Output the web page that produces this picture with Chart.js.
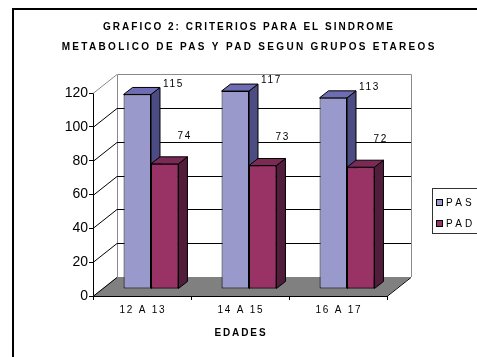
<!DOCTYPE html>
<html>
<head>
<meta charset="utf-8">
<script src="https://cdn.jsdelivr.net/npm/chart.js@4"></script>
<style>
html,body{margin:0;padding:0;background:#fff;}
canvas{display:block;}
</style>
</head>
<body>
<canvas id="c" width="477" height="357"></canvas>
<script>
const categories = ['12 A 13', '14 A 15', '16 A 17'];
const seriesNames = ['PAS', 'PAD'];
const pasValues = [115, 117, 113];
const padValues = [74, 73, 72];
const titleLines = ['GRAFICO 2: CRITERIOS PARA EL SINDROME', 'METABOLICO DE PAS Y PAD SEGUN GRUPOS ETAREOS'];
const xAxisTitle = 'EDADES';
const yMin = 0, yMax = 120, yStep = 20;

const FONT = "'Liberation Sans', Arial, sans-serif";
const COLORS = {
  PAS: {front: '#9999cc', top: '#6e6db3', side: '#4c4b82'},
  PAD: {front: '#993366', top: '#7a2a55', side: '#521d3b'}
};
const WALL = {x: 24, y: -19};
const BAR_OFF = {x: 9, y: -7};
const BAR_D = {x: 9, y: -7};

const mctx = document.createElement('canvas').getContext('2d');
function fitSpacing(text, font, width) {
  mctx.font = font;
  mctx.letterSpacing = '0px';
  const w = mctx.measureText(text).width;
  return Math.max(0, (width - w) / text.length);
}

const TITLE_FONT = 'bold 10px ' + FONT;
const LABEL_FONT = '10px ' + FONT;
const titleSp = [fitSpacing(titleLines[0], TITLE_FONT, 292), fitSpacing(titleLines[1], TITLE_FONT, 375)];
const tickSp = fitSpacing(categories[0], LABEL_FONT, 47);
const axisSp = fitSpacing(xAxisTitle, TITLE_FONT, 53);
const dataSp = fitSpacing('115', LABEL_FONT, 21);
const legSp = fitSpacing('PAS', LABEL_FONT, 29);

function poly(ctx, pts, fill, stroke, lw) {
  ctx.beginPath();
  ctx.moveTo(pts[0][0], pts[0][1]);
  for (let i = 1; i < pts.length; i++) ctx.lineTo(pts[i][0], pts[i][1]);
  ctx.closePath();
  if (fill) { ctx.fillStyle = fill; ctx.fill(); }
  if (stroke) { ctx.strokeStyle = stroke; ctx.lineWidth = lw || 1; ctx.stroke(); }
}

function barFaces(ctx, el, c) {
  const p = el.getProps(['x', 'y', 'base', 'width'], true);
  const l = p.x - p.width / 2, r = p.x + p.width / 2, t = p.y, b = p.base;
  const dx = BAR_D.x, dy = BAR_D.y;
  poly(ctx, [[r, t], [r + dx, t + dy], [r + dx, b + dy], [r, b]], c.side, '#000', 1);
  poly(ctx, [[l, t], [r, t], [r + dx, t + dy], [l + dx, t + dy]], c.top, '#000', 1);
}

const frame3d = {
  id: 'frame3d',
  beforeDraw(chart) {
    const ctx = chart.ctx;
    ctx.save();
    ctx.fillStyle = '#fff';
    ctx.fillRect(0, 0, chart.width, chart.height);
    ctx.fillStyle = '#000';
    ctx.fillRect(12, 8, 2, chart.height - 8);
    ctx.fillRect(12, 8, chart.width - 12, 2);
    // title
    ctx.fillStyle = '#000';
    ctx.font = TITLE_FONT;
    ctx.textAlign = 'left';
    ctx.textBaseline = 'middle';
    const tc = 248, ty = [27, 47];
    titleLines.forEach((t, i) => {
      ctx.letterSpacing = titleSp[i] + 'px';
      const w = ctx.measureText(t).width - titleSp[i];
      ctx.fillText(t, tc - w / 2, ty[i]);
    });
    // legend
    ctx.letterSpacing = legSp + 'px';
    ctx.font = LABEL_FONT;
    ctx.strokeStyle = '#333';
    ctx.lineWidth = 1;
    ctx.strokeRect(432.5, 188.5, 60, 45);
    const ly = [203, 224];
    seriesNames.forEach((n, i) => {
      ctx.fillStyle = COLORS[n].front;
      ctx.fillRect(436, ly[i] - 4, 7, 7);
      ctx.strokeStyle = '#000';
      ctx.strokeRect(436.5, ly[i] - 3.5, 6, 6);
      ctx.fillStyle = '#000';
      ctx.fillText(n, 446, ly[i] + 0.5);
    });
    ctx.restore();
  },
  beforeDatasetsDraw(chart) {
    const ctx = chart.ctx, ys = chart.scales.y, a = chart.chartArea;
    const L = a.left, R = a.right, B = a.bottom;
    const wx = WALL.x, wy = WALL.y;
    ctx.save();
    poly(ctx, [[L, B], [R, B], [R + wx, B + wy], [L + wx, B + wy]], '#808080', null);
    ctx.lineWidth = 1;
    const yTop = ys.getPixelForValue(yMax);
    ctx.strokeStyle = '#8a8a8a';
    ctx.beginPath();
    ctx.moveTo(L + wx + 0.5, B + wy);
    ctx.lineTo(L + wx + 0.5, yTop + wy + 0.5);
    ctx.lineTo(R + wx + 0.5, yTop + wy + 0.5);
    ctx.lineTo(R + wx + 0.5, B + wy);
    ctx.stroke();
    ctx.beginPath();
    ctx.moveTo(L, yTop + 0.5);
    ctx.lineTo(L + wx, yTop + wy + 0.5);
    ctx.stroke();
    ctx.strokeStyle = '#000';
    for (let v = yMin; v < yMax; v += yStep) {
      const y = Math.round(ys.getPixelForValue(v)) + 0.5;
      ctx.beginPath();
      ctx.moveTo(L, y);
      ctx.lineTo(L + wx, y + wy);
      if (v > yMin) ctx.lineTo(R + wx, y + wy);
      ctx.stroke();
    }
    ctx.beginPath();
    ctx.moveTo(R, B + 0.5);
    ctx.lineTo(R + wx, B + wy + 0.5);
    ctx.stroke();
    ctx.restore();
    ctx.save();
    ctx.translate(BAR_OFF.x, BAR_OFF.y);
  },
  afterDatasetsDraw(chart) {
    const ctx = chart.ctx;
    const m0 = chart.getDatasetMeta(0), m1 = chart.getDatasetMeta(1);
    for (let i = 0; i < categories.length; i++) {
      barFaces(ctx, m0.data[i], COLORS.PAS);
      m1.data[i].draw(ctx);
      barFaces(ctx, m1.data[i], COLORS.PAD);
    }
    ctx.restore();
    ctx.save();
    ctx.fillStyle = '#000';
    ctx.font = LABEL_FONT;
    ctx.letterSpacing = dataSp + 'px';
    ctx.textAlign = 'left';
    ctx.textBaseline = 'middle';
    for (let i = 0; i < categories.length; i++) {
      const p0 = m0.data[i].getProps(['x', 'y', 'width'], true);
      ctx.fillText(String(pasValues[i]), p0.x + p0.width / 2 + BAR_OFF.x + BAR_D.x + 3, p0.y + BAR_OFF.y - 10.5);
      const p1 = m1.data[i].getProps(['x', 'y', 'width'], true);
      ctx.fillText(String(padValues[i]), p1.x + p1.width / 2 + BAR_OFF.x - 1, p1.y + BAR_OFF.y - 28);
    }
    ctx.restore();
  }
};

function spaced(scale, lpx, tpx) {
  if (scale._spacedWrapped) return;
  scale._spacedWrapped = true;
  const dl = scale.drawLabels, dt = scale.drawTitle;
  scale.drawLabels = function (a) { const c = this.ctx; c.save(); c.letterSpacing = lpx + 'px'; c.translate(lpx / 2, 0); dl.call(this, a); c.restore(); };
  scale.drawTitle = function (a) { const c = this.ctx; c.save(); c.letterSpacing = tpx + 'px'; c.translate(tpx / 2, 0); dt.call(this, a); c.restore(); };
}

new Chart(document.getElementById('c'), {
  type: 'bar',
  data: {
    labels: categories,
    datasets: [
      {label: seriesNames[0], data: pasValues, backgroundColor: COLORS.PAS.front, borderColor: '#000', borderWidth: 1, borderSkipped: false},
      {label: seriesNames[1], data: padValues, backgroundColor: COLORS.PAD.front, borderColor: '#000', borderWidth: 1, borderSkipped: false}
    ]
  },
  options: {
    responsive: false,
    animation: false,
    events: [],
    categoryPercentage: 0.56,
    barPercentage: 1,
    layout: {padding: {top: 93, right: 90, left: 0, bottom: 0}},
    plugins: {legend: {display: false}, tooltip: {enabled: false}, title: {display: false}},
    scales: {
      x: {
        grid: {display: true, drawOnChartArea: false, drawTicks: true, tickLength: 4, color: '#000', offset: true},
        border: {display: true, color: '#000', width: 1},
        ticks: {color: '#000', font: {family: FONT, size: 10}, padding: 4, maxRotation: 0},
        title: {display: true, text: xAxisTitle, color: '#000', font: {family: FONT, size: 10, weight: 'bold'}, padding: {top: 4, bottom: 18}},
        afterFit(s) { s.height = 61; spaced(s, tickSp, axisSp); }
      },
      y: {
        min: yMin, max: yMax,
        grid: {display: true, drawOnChartArea: false, drawTicks: true, tickLength: 4, color: '#000'},
        border: {display: true, color: '#000', width: 1},
        ticks: {stepSize: yStep, color: '#000', font: {family: FONT, size: 14}, padding: 1},
        afterFit(s) { s.width = 93; }
      }
    }
  },
  plugins: [frame3d]
});
</script>
</body>
</html>
